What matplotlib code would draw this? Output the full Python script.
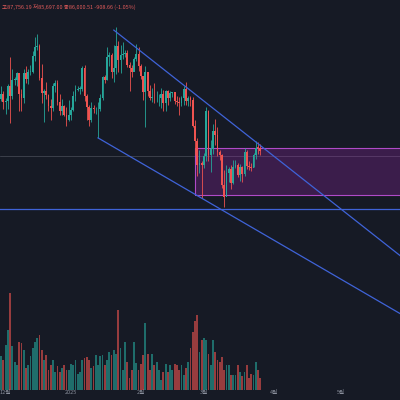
import matplotlib.pyplot as plt
import matplotlib.patches as mpatches
from matplotlib import font_manager
import pandas as pd

names = {f.name for f in font_manager.fontManager.ttflist}
cjk = [n for n in ["Noto Sans CJK KR", "Noto Sans CJK JP", "Noto Sans CJK SC"] if n in names]
plt.rcParams['font.family'] = cjk[:1] + ['DejaVu Sans']

BG = "#161a25"
UP = "#26a69a"
DOWN = "#ef5350"
BLUE = "#3f63d8"
PURPLE = "#9c27b0"
DIM = "#8a8f9c"

# daily BTC closes (thousands), 2024-12-01 .. 2025-03-26
close = [97.3, 95.8, 96.0, 98.8, 97.0, 99.9, 99.9, 101.1, 97.4, 96.6, 101.1, 100.0, 101.4, 101.4, 104.3, 106.0,
         106.1, 100.2, 97.5, 97.8, 97.2, 95.1, 94.7, 98.7, 99.4, 95.8, 94.2, 95.2, 93.5, 92.6, 93.4,
         94.4, 96.9, 98.1, 98.2, 98.3, 102.1, 96.9, 95.0, 92.5, 94.7, 94.5, 94.5, 94.5, 96.5, 100.5, 99.9,
         104.1, 104.5, 101.3, 102.0, 106.1, 103.6, 104.4, 104.7, 104.8, 102.6, 102.1, 101.3, 103.7, 104.7, 102.4,
         100.6, 97.7, 101.4, 97.9, 96.6, 96.6, 96.5, 96.5, 96.5, 97.4, 95.7, 97.8, 96.6, 97.5, 97.6, 96.1,
         95.8, 95.6, 96.6, 98.3, 96.1, 96.6, 96.3, 91.5, 88.7, 84.3, 84.7, 84.4,
         86.0, 94.2, 86.1, 87.2, 90.6, 89.9, 86.7, 86.1, 80.7, 78.5, 82.9, 83.6, 81.0, 83.9, 84.3, 82.6,
         84.0, 82.7, 86.8, 84.1, 84.0, 83.8, 86.1, 87.5, 87.4, 86.9]
high = [98.7, 97.9, 96.5, 99.1, 104.0, 101.9, 100.5, 101.4, 101.2, 98.2, 101.9, 102.5, 101.9, 102.6, 105.2, 107.8,
        108.3, 106.5, 102.8, 98.2, 99.5, 97.4, 96.4, 99.4, 99.9, 99.9, 97.3, 96.4, 95.3, 94.9, 96.2,
        94.9, 97.8, 98.9, 98.8, 98.7, 102.5, 102.7, 97.3, 95.3, 95.8, 95.3, 95.0, 95.9, 97.3, 100.7, 100.8,
        105.9, 105.0, 104.9, 106.3, 109.6, 107.0, 106.3, 106.8, 105.3, 105.3, 103.2, 102.6, 104.0, 106.4, 106.0,
        102.8, 100.7, 102.5, 101.3, 99.0, 98.4, 99.3, 97.8, 97.3, 98.5, 98.0, 98.1, 98.1, 97.9, 97.7, 97.7,
        97.0, 96.7, 97.0, 98.8, 99.5, 96.9, 96.9, 96.7, 92.5, 89.2, 87.0, 85.1,
        86.5, 95.0, 94.4, 88.9, 91.9, 92.8, 91.2, 87.0, 86.4, 83.4, 84.3, 84.0, 84.3, 85.3, 85.2, 84.7,
        84.5, 84.1, 87.4, 87.0, 85.1, 84.8, 86.5, 88.7, 88.5, 88.1]
low = [96.0, 94.5, 93.6, 94.6, 92.1, 96.4, 99.0, 98.8, 94.2, 94.3, 95.7, 99.3, 99.2, 100.8, 101.2, 103.4,
       105.3, 99.9, 95.6, 92.2, 96.4, 94.2, 92.5, 94.3, 97.6, 95.3, 93.5, 93.4, 93.3, 91.4, 92.4,
       92.6, 94.3, 96.1, 97.8, 97.4, 97.9, 96.1, 92.5, 91.4, 92.2, 93.8, 93.7, 89.3, 94.2, 96.3, 99.3,
       99.9, 102.5, 100.2, 99.6, 101.0, 101.3, 101.2, 103.7, 104.1, 102.3, 97.8, 100.4, 101.5, 103.4, 101.6,
       100.0, 96.2, 91.2, 96.9, 96.2, 95.8, 95.7, 95.9, 95.1, 94.7, 94.3, 94.2, 95.3, 96.1, 96.7, 95.5,
       95.2, 93.4, 95.1, 95.4, 95.4, 95.1, 95.2, 91.3, 86.1, 82.3, 82.8, 78.3,
       83.8, 85.1, 85.1, 83.0, 86.4, 88.0, 85.9, 85.3, 80.1, 76.6, 78.9, 81.2, 79.9, 80.8, 83.8, 82.1,
       81.5, 81.2, 82.4, 83.7, 83.4, 83.2, 83.9, 85.5, 86.4, 86.2]
volume = [34, 30, 45, 60, 97, 44, 28, 25, 48, 47, 40, 22, 25, 34, 42, 48, 52, 55, 40, 30, 35, 20, 25, 30, 18, 24,
          18, 22, 25, 20, 20, 26, 25, 30, 16, 18, 30, 32, 33, 30, 22, 24, 35, 25, 34, 35, 25, 30, 38, 35, 40, 36,
          80, 42, 20, 48, 28, 12, 20, 48, 27, 20, 26, 35, 67, 36, 20, 36, 25, 28, 20, 10, 18, 26, 18, 25, 20, 26,
          25, 20, 25, 15, 22, 28, 42, 58, 69, 75, 38, 50, 52, 50, 36, 25, 50, 38, 30, 28, 33, 20, 25, 25, 15, 15,
          15, 25, 18, 14, 18, 25, 12, 16, 15, 28, 20, 12]
open_ = [96.4] + close[:-1]
dates = pd.date_range("2024-12-01", periods=len(close), freq="D")
day0 = dates[0]
x = [(d - day0).days for d in dates]

month_ticks = [("12월", "2024-12-03"), ("2025", "2025-01-01"), ("2월", "2025-02-01"),
               ("3월", "2025-03-01"), ("4월", "2025-04-01"), ("5월", "2025-05-01")]

fig = plt.figure(figsize=(4, 4), dpi=100)
fig.patch.set_facecolor(BG)
ax = fig.add_axes([0, 0, 1, 1])
ax.set_facecolor(BG)
ax.set_xlim(-0.5, 177)
ax.set_ylim(41.4, 114.5)
ax.axis("off")

vax = ax.twinx()
vax.set_ylim(-10, 390)
vax.axis("off")

for xi, o, h, l, c, v in zip(x, open_, high, low, close, volume):
    col = UP if c >= o else DOWN
    ax.vlines(xi, l, h, color=col, lw=0.6, zorder=3)
    ax.bar(xi, max(abs(c - o), 0.15), bottom=min(o, c), width=0.8, color=col, zorder=4)
    vax.bar(xi, v, width=0.8, color=col, alpha=0.6)

# channel lines, support, zone
d = lambda s: (pd.Timestamp(s) - day0).days
ax.plot([d("2025-01-20"), 177], [109.0, 67.8], color=BLUE, lw=0.9, zorder=5)
ax.plot([d("2025-01-13"), 177], [89.3, 57.2], color=BLUE, lw=0.9, zorder=5)
ax.axhline(76.3, color=BLUE, lw=0.9, zorder=5)
ax.axhline(86.0, color="#4a4e5a", lw=0.5, zorder=1)
ax.add_patch(mpatches.Rectangle((d("2025-02-25"), 78.8), 200, 8.6, facecolor=PURPLE, alpha=0.28,
                                edgecolor="none", zorder=2))
ax.add_patch(mpatches.Rectangle((d("2025-02-25"), 78.8), 200, 8.6, facecolor="none",
                                edgecolor="#b04ac8", lw=0.8, zorder=2))

for lab, s in month_ticks:
    ax.text(d(s), 42.3, lab, color=DIM, fontsize=4, ha="center", va="bottom")

fig.text(0.005, 0.99, "고87,756.19 저85,697.00 종86,000.51 -908.66 (-1.05%)",
         color="#e05a5a", fontsize=4, va="top")

fig.savefig("out.png", facecolor=BG)
